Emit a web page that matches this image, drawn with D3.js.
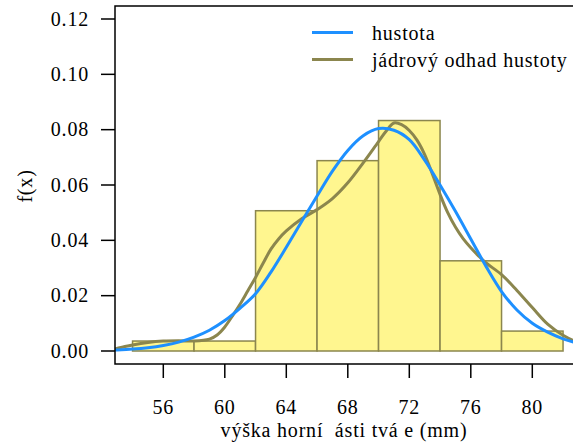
<!DOCTYPE html>
<html>
<head>
<meta charset="utf-8">
<script src="https://cdn.jsdelivr.net/npm/d3@7"></script>
<style>
  body { margin: 0; background: #fff; }
  svg { display: block; }
  svg text { font-family: "Times New Roman", Times, "Liberation Serif", "DejaVu Serif", serif; white-space: pre; letter-spacing: 0.8px; }
</style>
</head>
<body>
<div id="chart"></div>
<script>
// histogram bins (left edge, width 4) and densities
const binStarts = [54, 58, 62, 66, 70, 74, 78];
const binWidth = 4;
const binDensity = [0.0036, 0.0036, 0.0507, 0.0688, 0.0833, 0.0326, 0.0072];

// blue "hustota" curve
const normX = [52, 53, 54, 55, 56, 57, 58, 59, 60, 61, 62, 63, 64, 65, 66, 67, 68, 69, 70,
  71, 72, 73, 74, 75, 76, 77, 78, 79, 80, 81, 82, 83, 84];
const normY = [0.0002, 0.0004, 0.0007, 0.0012, 0.0020, 0.0032, 0.0050, 0.0075, 0.0110, 0.0155,
  0.0207, 0.0285, 0.0375, 0.0468, 0.0560, 0.0650, 0.0725, 0.0778, 0.0804, 0.0798, 0.0764,
  0.0690, 0.0600, 0.0505, 0.0405, 0.0305, 0.0215, 0.0148, 0.0100, 0.0068, 0.0044, 0.0028, 0.0017];

// olive kernel density curve
const kdeX = [52.86, 53.5, 54, 55, 56, 57, 58, 59, 59.5, 60, 60.5, 61, 61.5, 62, 62.5, 63, 63.5,
  64, 65, 66, 67, 68, 69, 70, 70.5, 71, 71.5, 72, 72.5, 73, 73.5, 74, 74.5, 75, 75.5, 76,
  76.5, 77, 78, 79, 80, 81, 82, 83, 84];
const kdeY = [0.0007, 0.0016, 0.0022, 0.0031, 0.0036, 0.0037, 0.0036, 0.0043, 0.0058, 0.0087,
  0.0127, 0.0170, 0.0218, 0.0266, 0.0318, 0.0368, 0.0405, 0.0434, 0.0478, 0.0511, 0.0551,
  0.0608, 0.0680, 0.0757, 0.0795, 0.0824, 0.0818, 0.0797, 0.0762, 0.0710, 0.0640, 0.0566,
  0.0500, 0.0448, 0.0406, 0.0373, 0.0344, 0.0318, 0.0276, 0.0219, 0.0157, 0.0097, 0.0057,
  0.0030, 0.0015];

const xTicks = [56, 60, 64, 68, 72, 76, 80];
const yTicks = [0, 0.02, 0.04, 0.06, 0.08, 0.10, 0.12];
const legendLabels = ["hustota", "jádrový odhad hustoty"];
const xLabel = "výška horní  ásti tvá e (mm)";
const yLabel = "f(x)";

const BLUE = "#1e90ff";
const OLIVE = "#8b864e";
const FILL = "#fff68f";

const W = 573, H = 445;
const box = { left: 115, top: 6, right: 600, bottom: 364 };

const x = d3.scaleLinear().domain([56, 80]).range([163.3, 532.3]);
const y = d3.scaleLinear().domain([0, 0.12]).range([351, 19]);

const svg = d3.select("#chart").append("svg")
  .attr("width", W)
  .attr("height", H);

svg.append("clipPath").attr("id", "plotclip")
  .append("rect")
  .attr("x", box.left).attr("y", box.top)
  .attr("width", box.right - box.left).attr("height", box.bottom - box.top);

const plot = svg.append("g").attr("clip-path", "url(#plotclip)");

// bars
plot.selectAll("rect.bar")
  .data(binStarts)
  .enter()
  .append("rect")
  .attr("class", "bar")
  .attr("x", d => x(d))
  .attr("width", d => x(d + binWidth) - x(d))
  .attr("y", (d, i) => y(binDensity[i]))
  .attr("height", (d, i) => y(0) - y(binDensity[i]))
  .attr("fill", FILL)
  .attr("stroke", OLIVE)
  .attr("stroke-width", 1.5);

const line = d3.line().curve(d3.curveCatmullRom);

plot.append("path")
  .attr("d", line(kdeX.map((v, i) => [x(v), y(kdeY[i])])))
  .attr("fill", "none")
  .attr("stroke", OLIVE)
  .attr("stroke-width", 3);

plot.append("path")
  .attr("d", line(normX.map((v, i) => [x(v), y(normY[i])])))
  .attr("fill", "none")
  .attr("stroke", BLUE)
  .attr("stroke-width", 3);

// box (left, top, bottom)
svg.append("path")
  .attr("d", `M${box.right},${box.top}H${box.left}V${box.bottom}H${box.right}`)
  .attr("fill", "none")
  .attr("stroke", "#000")
  .attr("stroke-width", 1.5);

// y axis ticks
const yAxis = svg.append("g");
yAxis.selectAll("line")
  .data(yTicks)
  .enter()
  .append("line")
  .attr("x1", box.left - 14).attr("x2", box.left)
  .attr("y1", d => y(d)).attr("y2", d => y(d))
  .attr("stroke", "#000").attr("stroke-width", 1.5);
yAxis.selectAll("text")
  .data(yTicks)
  .enter()
  .append("text")
  .attr("x", 89)
  .attr("y", d => y(d))
  .attr("dy", "0.34em")
  .attr("text-anchor", "end")
  .attr("font-size", 20)
  .text(d3.format(".2f"));

// x axis ticks
const xAxis = svg.append("g");
xAxis.selectAll("line")
  .data(xTicks)
  .enter()
  .append("line")
  .attr("x1", d => x(d)).attr("x2", d => x(d))
  .attr("y1", box.bottom).attr("y2", box.bottom + 14)
  .attr("stroke", "#000").attr("stroke-width", 1.5);
xAxis.selectAll("text")
  .data(xTicks)
  .enter()
  .append("text")
  .attr("x", d => x(d))
  .attr("y", 414)
  .attr("text-anchor", "middle")
  .attr("font-size", 20)
  .text(d => d);

svg.append("text")
  .attr("x", 344)
  .attr("y", 437)
  .attr("text-anchor", "middle")
  .attr("font-size", 20)
  .text(xLabel);

svg.append("text")
  .attr("transform", "translate(32,186) rotate(-90)")
  .attr("text-anchor", "middle")
  .attr("font-size", 20)
  .text(yLabel);

// legend
const legend = svg.append("g");
[BLUE, OLIVE].forEach((c, i) => {
  legend.append("line")
    .attr("x1", 312).attr("x2", 353)
    .attr("y1", 32.5 + i * 27).attr("y2", 32.5 + i * 27)
    .attr("stroke", c).attr("stroke-width", 3);
  legend.append("text")
    .attr("x", 372)
    .attr("y", 39.5 + i * 27)
    .attr("font-size", 20)
    .text(legendLabels[i]);
});
</script>
</body>
</html>
